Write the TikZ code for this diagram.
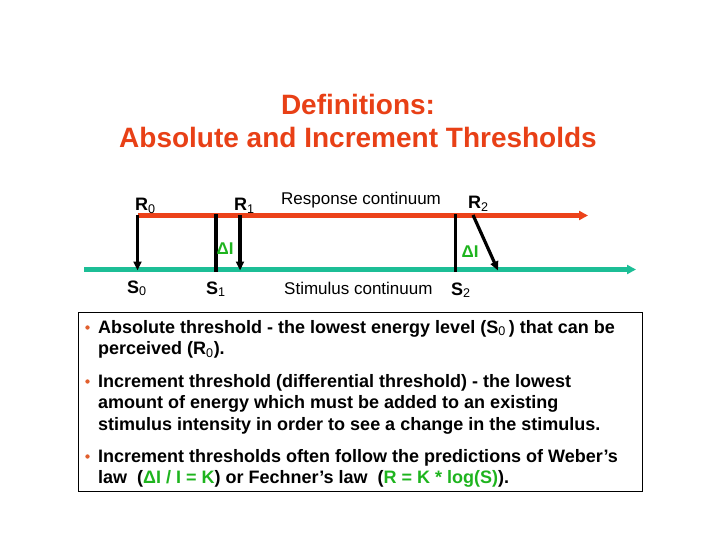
\documentclass[tikz,border=0pt]{standalone}
\usepackage{fontspec}
\setmainfont{Liberation Sans}
\usetikzlibrary{arrows.meta}
\definecolor{titlered}{RGB}{232,64,22}
\definecolor{linered}{RGB}{236,66,26}
\definecolor{tealc}{RGB}{28,190,150}
\definecolor{dgreen}{RGB}{30,180,30}
\definecolor{bulletc}{RGB}{225,95,45}
\newcommand{\sbs}[1]{\textsubscript{\mdseries #1}}
\begin{document}
\begin{tikzpicture}[x=1pt,y=-1pt,
  titlefont/.style={font=\fontsize{28}{33}\selectfont\bfseries, text=titlered, inner sep=0pt, anchor=base},
  lab/.style={font=\fontsize{18}{21}\selectfont\bfseries, inner sep=0pt, anchor=base west},
  conttxt/.style={font=\fontsize{17}{20}\selectfont, inner sep=0pt, anchor=base west},
  dlab/.style={font=\fontsize{17}{20}\selectfont\bfseries, text=dgreen, inner sep=0pt},
  bodytxt/.style={font=\fontsize{18}{21.6}\selectfont\bfseries, inner sep=0pt, anchor=base west},
  redline/.style={draw=linered, line width=4.2pt, -{Triangle[length=9pt,width=9pt]}},
  tealline/.style={draw=tealc, line width=4.2pt, -{Triangle[length=9pt,width=9pt]}},
  blackarrow/.style={draw=black, line width=3.2pt, -{Triangle[length=9pt,width=8pt]}},
  blackbar/.style={draw=black, line width=3.2pt},
  bulletdot/.style={fill=bulletc, circle, inner sep=0pt, minimum size=4.4pt}]
\useasboundingbox (0,0) rectangle (720,540);

% title
\node[titlefont] (t1) at (358,115) {Definitions:};
\node[titlefont] (t2) at (358,148) {Absolute and Increment Thresholds};

% axes
\coordinate (rs) at (138,215.5);
\coordinate (re) at (588,215.5);
\coordinate (ts) at (84,269.5);
\coordinate (te) at (636,269.5);
\draw[redline] (rs) -- (re);
\draw[tealline] (ts) -- (te);

% arrows and bars
\coordinate (r0top) at (137.5,215);
\coordinate (r0bot) at (137.5,270.5);
\coordinate (r1top) at (240,215);
\coordinate (r1bot) at (240,270.5);
\coordinate (s1top) at (216,214.5);
\coordinate (s1bot) at (216,272);
\coordinate (s2top) at (455.5,214.5);
\coordinate (s2bot) at (455.5,272);
\coordinate (r2top) at (473,215);
\coordinate (r2bot) at (498,270.5);
\draw[blackarrow] (r0top) -- (r0bot);
\draw[blackarrow] (r1top) -- (r1bot);
\draw[blackbar] (s1top) -- (s1bot);
\draw[blackbar] (s2top) -- (s2bot);
\draw[blackarrow] (r2top) -- (r2bot);

% labels
\node[lab] (R0) at (135,211) {R\sbs{0}};
\node[lab] (R1) at (234,211) {R\sbs{1}};
\node[lab] (R2) at (468,208.5) {R\sbs{2}};
\node[conttxt] (rc) at (281,205) {Response continuum};
\node[lab] (S0) at (127,293) {S\sbs{0}};
\node[lab] (S1) at (206,294) {S\sbs{1}};
\node[lab] (S2) at (451,295) {S\sbs{2}};
\node[conttxt] (sc) at (284,294) {Stimulus continuum};
\node[dlab] (dI1) at (225,249) {ΔI};
\node[dlab] (dI2) at (470,252) {ΔI};

% text box
\node[draw=black, line width=0.8pt, minimum width=564pt, minimum height=179pt, inner sep=0pt, anchor=north west] (box) at (78,312) {};
\node[bulletdot] (b1) at (87.5,327.5) {};
\node[bodytxt] (l1) at (98,333) {Absolute threshold - the lowest energy level (S\sbs{0}\,) that can be};
\node[bodytxt] (l2) at (98,354.5) {perceived (R\sbs{0}).};
\node[bulletdot] (b2) at (87.5,381.5) {};
\node[bodytxt] (l3) at (98,387) {Increment threshold (differential threshold) - the lowest};
\node[bodytxt] (l4) at (98,408.5) {amount of energy which must be added to an existing};
\node[bodytxt] (l5) at (98,430) {stimulus intensity in order to see a change in the stimulus.};
\node[bulletdot] (b3) at (87.5,456.5) {};
\node[bodytxt] (l6) at (98,462) {Increment thresholds often follow the predictions of Weber’s};
\node[bodytxt] (l7) at (98,483.5) {law\ \ (\textcolor{dgreen}{ΔI / I = K}) or Fechner’s law\ \ (\textcolor{dgreen}{R = K * log(S)}).};
\end{tikzpicture}
\end{document}
